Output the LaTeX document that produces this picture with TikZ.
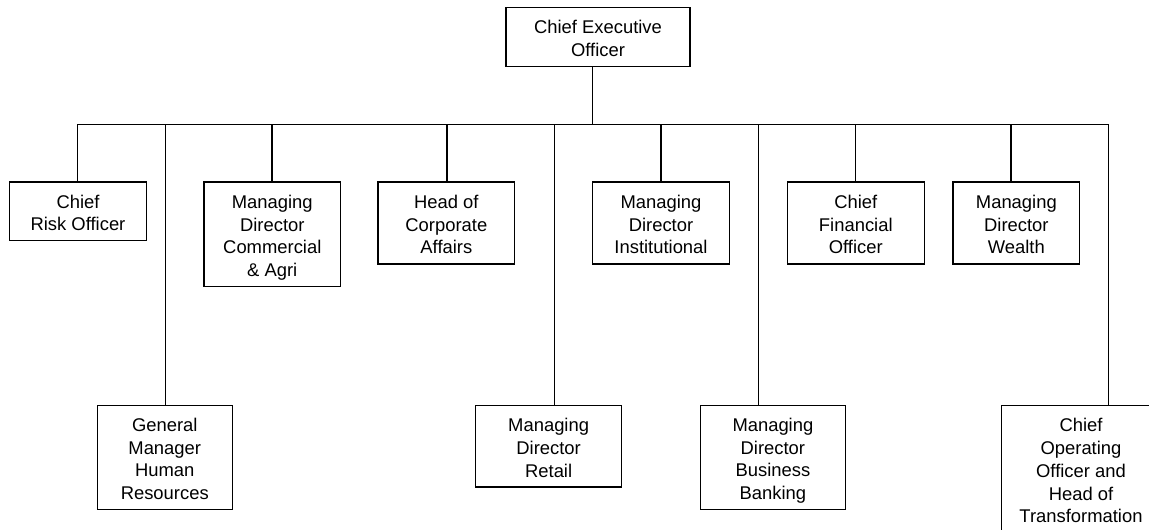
\documentclass[tikz,border=0pt]{standalone}
\usepackage{fontspec}
\setmainfont{Liberation Sans}
\newcommand{\orgfont}{\fontsize{18.4}{22.7}\selectfont}
% struts that fix the height of the first line and the depth of the last one
\newcommand{\firstln}{\rule{0pt}{20.2pt}}
\newcommand{\lastln}{\rule[-4pt]{0pt}{4pt}}
\begin{document}
\begin{tikzpicture}[x=1pt,y=-1pt,
  post/.style={draw, line width=1.3pt, inner sep=0pt, align=center, font=\orgfont, fill=white},
  conn/.style={line width=1.3pt}]
\clip (0,0) rectangle (1149,530);
\fill[white] (0,0) rectangle (1149,530);

% top level
\node[post, minimum width=184pt, minimum height=59.4pt] (ceo) at (598,37) {\firstln Chief Executive\\Officer\lastln};

% first row of reports
\node[post, minimum width=137pt,   minimum height=58.7pt]  (risk) at (78,211.35)    {\firstln Chief\\Risk Officer\lastln};
\node[post, minimum width=136.6pt, minimum height=104.7pt] (com)  at (272.3,234.35) {\firstln Managing\\Director\\Commercial\\\& Agri\lastln};
\node[post, minimum width=136.7pt, minimum height=82pt]    (corp) at (446.35,223)   {\firstln Head of\\Corporate\\Affairs\lastln};
\node[post, minimum width=137pt,   minimum height=82pt]    (inst) at (661,223)      {\firstln Managing\\Director\\Institutional\lastln};
\node[post, minimum width=137pt,   minimum height=82pt]    (cfo)  at (855.8,223)    {\firstln Chief\\Financial\\Officer\lastln};
\node[post, minimum width=126.7pt, minimum height=82pt]    (wea)  at (1016.35,223)  {\firstln Managing\\Director\\Wealth\lastln};

% second row of reports
\node[post, minimum width=135.1pt, minimum height=103.6pt] (gm)  at (164.75,457.5) {\firstln General\\Manager\\Human\\Resources\lastln};
\node[post, minimum width=145.9pt, minimum height=81.3pt]  (ret) at (548.65,446.35) {\firstln Managing\\Director\\Retail\lastln};
\node[post, minimum width=145pt,   minimum height=103.6pt] (bb)  at (772.9,457.5)  {\firstln Managing\\Director\\Business\\Banking\lastln};
\node[post, minimum width=158.6pt, minimum height=127pt]   (coo) at (1081,469.2)   {\firstln Chief\\Operating\\Officer and\\Head of\\Transformation\lastln};

% taps on the horizontal bus
\coordinate (tceo)  at (592.8,124.3);
\coordinate (trisk) at (77.7,124.3);
\coordinate (tgm)   at (165.7,124.3);
\coordinate (tcom)  at (272,124.3);
\coordinate (tcorp) at (447,124.3);
\coordinate (tret)  at (554.2,124.3);
\coordinate (tinst) at (661,124.3);
\coordinate (tbb)   at (758.2,124.3);
\coordinate (tcfo)  at (855.8,124.3);
\coordinate (twea)  at (1011,124.3);
\coordinate (tcoo)  at (1108.4,124.3);

% bus and drops
\draw[conn] (trisk) -- (tcoo);
\draw[conn] (ceo.south -| tceo) -- (tceo);
\foreach \t/\n in {trisk/risk, tgm/gm, tcom/com, tcorp/corp, tret/ret, tinst/inst, tbb/bb, tcfo/cfo, twea/wea, tcoo/coo}
  \draw[conn] (\t) -- (\t |- \n.north);
\end{tikzpicture}
\end{document}
